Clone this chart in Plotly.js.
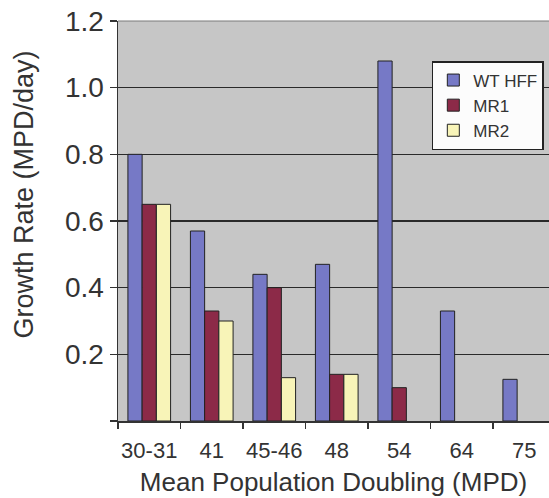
<!DOCTYPE html>
<html>
<head>
<meta charset="utf-8">
<script src="https://cdn.plot.ly/plotly-3.0.1.min.js"></script>
<style>
html,body{margin:0;padding:0;background:#fff;overflow:hidden;}
#chart{width:549px;height:498px;}
</style>
</head>
<body>
<div id="chart"></div>
<script>
const categories = ['30-31', '41', '45-46', '48', '54', '64', '75'];
const wtHff = [0.80, 0.57, 0.44, 0.47, 1.08, 0.33, 0.125];
const mr1 = [0.65, 0.33, 0.40, 0.14, 0.10, null, null];
const mr2 = [0.65, 0.30, 0.13, 0.14, null, null, null];
const yTickVals = [0, 0.2, 0.4, 0.6, 0.8, 1.0, 1.2];
const yTickText = ['', '0.2', '0.4', '0.6', '0.8', '1.0', '1.2'];

const FONT = 'Liberation Sans, Arial, sans-serif';
const outline = {color: '#222', width: 1};

const traces = [
  {type: 'bar', name: 'WT HFF', x: categories, y: wtHff, marker: {color: '#7679c6', line: outline}},
  {type: 'bar', name: 'MR1', x: categories, y: mr1, marker: {color: '#8c2a48', line: outline}},
  {type: 'bar', name: 'MR2', x: categories, y: mr2, marker: {color: '#f8f4b8', line: outline}}
];

const layout = {
  width: 549, height: 498,
  margin: {l: 118, r: 0, t: 21, b: 77, pad: 0},
  paper_bgcolor: '#ffffff',
  plot_bgcolor: '#c6c6c6',
  font: {family: FONT, color: '#333'},
  barmode: 'group',
  bargap: 0.317,
  bargroupgap: 0,
  showlegend: true,
  legend: {
    x: 0.988, y: 0.9, xanchor: 'right', yanchor: 'top',
    bgcolor: '#fcfcfc', bordercolor: '#222', borderwidth: 1.5,
    font: {family: FONT, size: 17, color: '#333'},
    traceorder: 'normal'
  },
  xaxis: {
    type: 'category',
    range: [-0.5, 6.396],
    tickson: 'boundaries',
    tickangle: 0,
    ticks: 'outside', ticklen: 6, tickwidth: 1.5, tickcolor: '#333',
    showline: true, linecolor: '#333', linewidth: 1.5,
    showgrid: false, zeroline: false,
    tickfont: {family: FONT, size: 22, color: '#333'},
    ticklabelstandoff: 9,
    title: {text: 'Mean Population Doubling (MPD)', font: {family: FONT, size: 26, color: '#333'}, standoff: 11},
    automargin: false,
    fixedrange: true
  },
  yaxis: {
    range: [0, 1.2],
    tickmode: 'array',
    tickvals: yTickVals, ticktext: yTickText,
    ticks: 'outside', ticklen: 7, tickwidth: 1.5, tickcolor: '#333',
    showline: true, linecolor: '#333', linewidth: 1.5,
    showgrid: true, gridcolor: '#2a2a2a', gridwidth: 1.5,
    zeroline: false,
    tickfont: {family: FONT, size: 28, color: '#333'},
    automargin: false,
    fixedrange: true
  },
  annotations: [{
    text: 'Growth Rate (MPD/day)',
    xref: 'paper', yref: 'paper',
    x: -0.217, y: 0.5675, xanchor: 'center', yanchor: 'middle',
    textangle: -90, showarrow: false,
    font: {family: FONT, size: 27, color: '#333'}
  }],
  shapes: [{
    type: 'line', xref: 'paper', yref: 'paper',
    x0: 0, x1: 1, y0: 1, y1: 1,
    line: {color: '#7a7a7a', width: 1}
  }]
};

Plotly.newPlot('chart', traces, layout, {displayModeBar: false, staticPlot: true});
</script>
</body>
</html>
